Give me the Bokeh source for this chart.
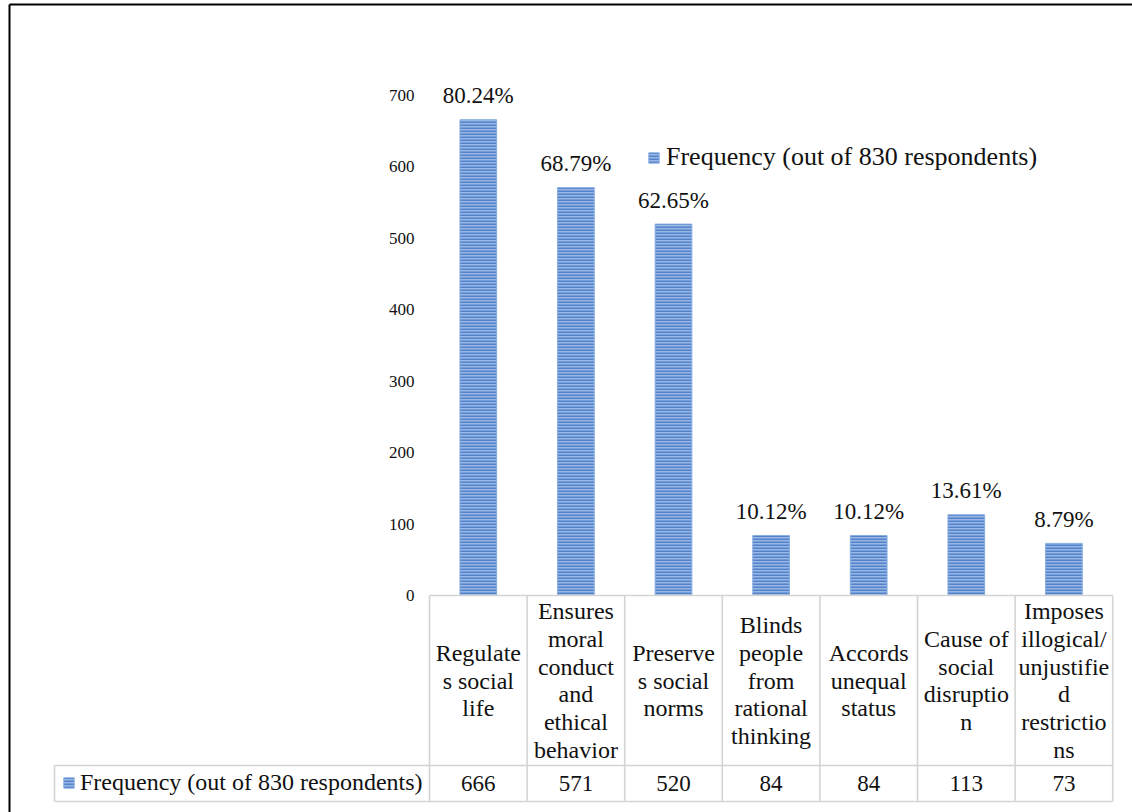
from bokeh.plotting import figure
from bokeh.models import Range1d, Legend, LegendItem
from bokeh.core.properties import value
from bokeh.embed import file_html
from bokeh.resources import INLINE

# ---------------- data ----------------
categories = [
    "Regulates social life",
    "Ensures moral conduct and ethical behavior",
    "Preserves social norms",
    "Blinds people from rational thinking",
    "Accords unequal status",
    "Cause of social disruption",
    "Imposes illogical/ unjustified restrictions",
]
category_lines = [
    ["Regulate", "s social", "life"],
    ["Ensures", "moral", "conduct", "and", "ethical", "behavior"],
    ["Preserve", "s social", "norms"],
    ["Blinds", "people", "from", "rational", "thinking"],
    ["Accords", "unequal", "status"],
    ["Cause of", "social", "disruptio", "n"],
    ["Imposes", "illogical/", "unjustifie", "d", "restrictio", "ns"],
]
frequency = [666, 571, 520, 84, 84, 113, 73]
percent_labels = ["80.24%", "68.79%", "62.65%", "10.12%", "10.12%", "13.61%", "8.79%"]
y_ticks = [0, 100, 200, 300, 400, 500, 600, 700]
series_name = "Frequency (out of 830 respondents)"

# ---------------- layout (pixels) ----------------
W, H = 1132, 812
X0_PX = 477.8       # centre of first category column
COL_PX = 97.6       # column width
Y0_PX = 595.0       # pixel row of value 0
PX_PER_UNIT = 500.0 / 700.0

FONT_NAME = "Liberation Serif"
FONT = value(FONT_NAME)
TXT = "#111111"
GRID = "#d4d4d4"


def px_x(px):
    return (px - X0_PX) / COL_PX


def px_y(py):
    return (Y0_PX - py) / PX_PER_UNIT


p = figure(
    width=W, height=H,
    x_range=Range1d(px_x(0), px_x(W)),
    y_range=Range1d(px_y(H), px_y(0)),
    x_axis_type=None, y_axis_type=None,
    toolbar_location=None, output_backend="svg",
    min_border=0, outline_line_color=None,
)
p.xgrid.visible = False
p.ygrid.visible = False

idx = list(range(len(categories)))

# outer frame (left and top only)
p.segment(x0=[px_x(9), px_x(9)], y0=[px_y(4), px_y(4)],
          x1=[px_x(9), px_x(W)], y1=[px_y(H), px_y(4)],
          line_color="black", line_width=2)

# bars
bars = p.vbar(x=idx, top=frequency, bottom=0, width=0.376,
              fill_color="#98b7e5", line_color="#8aaee0", line_width=1,
              hatch_pattern="horizontal_line", hatch_color="#5383cb",
              hatch_scale=3, hatch_weight=2)

# data labels
p.text(x=idx, y=frequency, text=percent_labels, y_offset=-24,
       text_align="center", text_baseline="middle",
       text_font=FONT, text_font_size="23px", text_color=TXT)

# y tick labels
p.text(x=[px_x(414)] * len(y_ticks), y=y_ticks, text=[str(t) for t in y_ticks],
       text_align="right", text_baseline="middle",
       text_font=FONT, text_font_size="17px", text_color=TXT)

# data table lines
n = len(categories)
edges = [i - 0.5 for i in range(n + 1)]
x0s, y0s, x1s, y1s = [], [], [], []
x0s.append(edges[0]); y0s.append(0); x1s.append(edges[-1]); y1s.append(0)
for e in edges:
    x0s.append(e); y0s.append(0); x1s.append(e); y1s.append(px_y(801))
for ry in (765, 801):
    x0s.append(px_x(54)); y0s.append(px_y(ry)); x1s.append(edges[-1]); y1s.append(px_y(ry))
x0s.append(px_x(54)); y0s.append(px_y(765)); x1s.append(px_x(54)); y1s.append(px_y(801))
p.segment(x0=x0s, y0=y0s, x1=x1s, y1=y1s, line_color=GRID, line_width=1.6)

# category labels (wrapped) in the table header row
LINE_PX = 27.7
CELL_MID = 680.0
lx, ly, lt = [], [], []
for i, lines in enumerate(category_lines):
    m = len(lines)
    for k, line in enumerate(lines):
        lx.append(i)
        ly.append(px_y(CELL_MID + (k - (m - 1) / 2.0) * LINE_PX))
        lt.append(line)
p.text(x=lx, y=ly, text=lt, text_align="center", text_baseline="middle",
       text_font=FONT, text_font_size="24px", text_color=TXT)

# values row
p.text(x=idx, y=[px_y(783)] * n, text=[str(v) for v in frequency],
       text_align="center", text_baseline="middle",
       text_font=FONT, text_font_size="23px", text_color=TXT)

# legend inside the plot
leg = Legend(items=[LegendItem(label=series_name, renderers=[bars])],
             location=(647, 640), orientation="vertical",
             border_line_color=None, background_fill_alpha=0,
             padding=0, margin=0, spacing=0,
             glyph_width=13, glyph_height=13, label_standoff=6,
             label_text_font=FONT_NAME, label_text_font_size="26px",
             label_text_color=TXT)
p.add_layout(leg, "center")

# legend key in the data table
leg2 = Legend(items=[LegendItem(label=series_name, renderers=[bars])],
              location=(62, 16), orientation="vertical",
              border_line_color=None, background_fill_alpha=0,
              padding=0, margin=0, spacing=0,
              glyph_width=13, glyph_height=13, label_standoff=5,
              label_text_font=FONT_NAME, label_text_font_size="24px",
              label_text_color=TXT)
p.add_layout(leg2, "center")

open("out.html", "w").write(file_html(p, INLINE))
